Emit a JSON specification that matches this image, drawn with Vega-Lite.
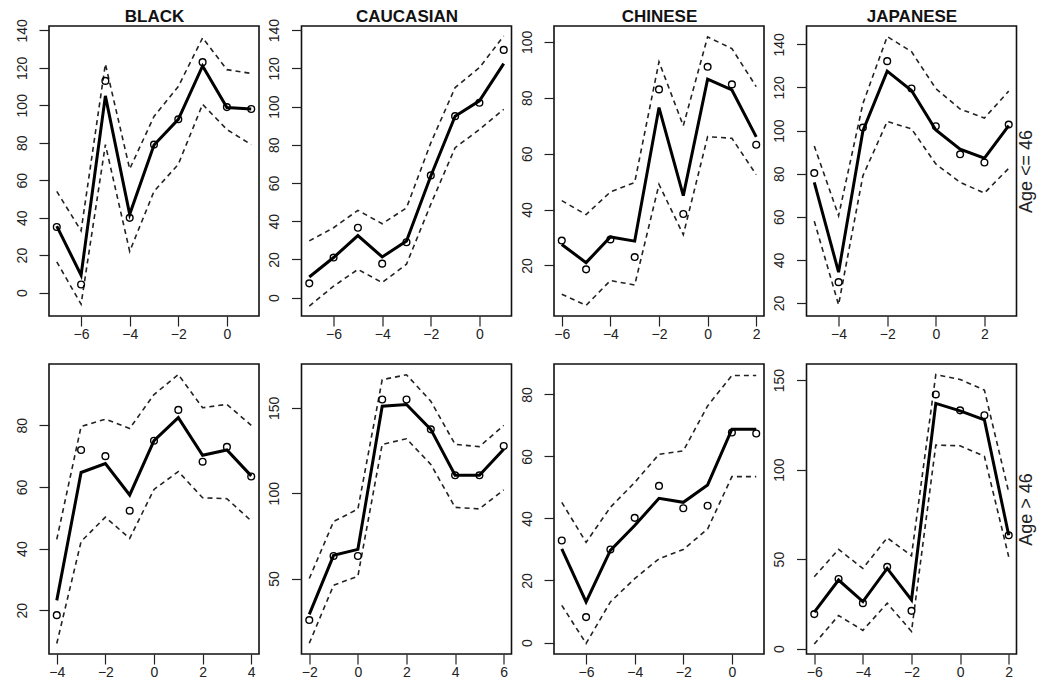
{
"$schema": "https://vega.github.io/schema/vega-lite/v6.json",
"padding": {"left": 14, "top": 6, "right": 5, "bottom": 5},
"background": "white",
"data": {"values": [
{"g":"BLACK","a":"y","x":-7,"fit":35.5,"obs":35,"lo":16.4,"hi":54},
{"g":"BLACK","a":"y","x":-6,"fit":9.3,"obs":4.3,"lo":-6.2,"hi":33},
{"g":"BLACK","a":"y","x":-5,"fit":105,"obs":113,"lo":79,"hi":122},
{"g":"BLACK","a":"y","x":-4,"fit":41.8,"obs":39.9,"lo":22,"hi":66},
{"g":"BLACK","a":"y","x":-3,"fit":78.8,"obs":79,"lo":54,"hi":94},
{"g":"BLACK","a":"y","x":-2,"fit":92.5,"obs":92.5,"lo":68.5,"hi":110},
{"g":"BLACK","a":"y","x":-1,"fit":121,"obs":123,"lo":100.5,"hi":136},
{"g":"BLACK","a":"y","x":0,"fit":98.8,"obs":99,"lo":87,"hi":119},
{"g":"BLACK","a":"y","x":1,"fit":98,"obs":98,"lo":79,"hi":117},
{"g":"CAUCASIAN","a":"y","x":-7,"fit":10.8,"obs":7.5,"lo":-4.4,"hi":29.7},
{"g":"CAUCASIAN","a":"y","x":-6,"fit":21,"obs":21,"lo":6,"hi":36.6},
{"g":"CAUCASIAN","a":"y","x":-5,"fit":32.5,"obs":36.6,"lo":14.8,"hi":45.7},
{"g":"CAUCASIAN","a":"y","x":-4,"fit":21.3,"obs":17.8,"lo":7.9,"hi":38.7},
{"g":"CAUCASIAN","a":"y","x":-3,"fit":29.7,"obs":29,"lo":17.5,"hi":47},
{"g":"CAUCASIAN","a":"y","x":-2,"fit":63.7,"obs":64,"lo":48.9,"hi":81},
{"g":"CAUCASIAN","a":"y","x":-1,"fit":95,"obs":95,"lo":78.5,"hi":110},
{"g":"CAUCASIAN","a":"y","x":0,"fit":103,"obs":102,"lo":88,"hi":120.4},
{"g":"CAUCASIAN","a":"y","x":1,"fit":122.5,"obs":129.7,"lo":98.6,"hi":137},
{"g":"CHINESE","a":"y","x":-6,"fit":27.5,"obs":28.9,"lo":9.7,"hi":43.2},
{"g":"CHINESE","a":"y","x":-5,"fit":21,"obs":18.6,"lo":5.7,"hi":38.2},
{"g":"CHINESE","a":"y","x":-4,"fit":30.2,"obs":29.3,"lo":14.6,"hi":46.3},
{"g":"CHINESE","a":"y","x":-3,"fit":28.7,"obs":23,"lo":13,"hi":49.7},
{"g":"CHINESE","a":"y","x":-2,"fit":76.5,"obs":83,"lo":49,"hi":92.9},
{"g":"CHINESE","a":"y","x":-1,"fit":45,"obs":38.4,"lo":31,"hi":70},
{"g":"CHINESE","a":"y","x":0,"fit":86.7,"obs":91.1,"lo":66.1,"hi":101.8},
{"g":"CHINESE","a":"y","x":1,"fit":82.8,"obs":84.8,"lo":65.5,"hi":97.6},
{"g":"CHINESE","a":"y","x":2,"fit":66,"obs":63.2,"lo":52.5,"hi":84},
{"g":"JAPANESE","a":"y","x":-5,"fit":76,"obs":80.3,"lo":58,"hi":92.8},
{"g":"JAPANESE","a":"y","x":-4,"fit":34.3,"obs":29.7,"lo":19.2,"hi":60.5},
{"g":"JAPANESE","a":"y","x":-3,"fit":99.8,"obs":101.4,"lo":79,"hi":112.5},
{"g":"JAPANESE","a":"y","x":-2,"fit":127.6,"obs":132.2,"lo":104.2,"hi":143.6},
{"g":"JAPANESE","a":"y","x":-1,"fit":118.6,"obs":119.5,"lo":100.8,"hi":136.6},
{"g":"JAPANESE","a":"y","x":0,"fit":100.3,"obs":102,"lo":84.5,"hi":119.5},
{"g":"JAPANESE","a":"y","x":1,"fit":91.4,"obs":89,"lo":76,"hi":110},
{"g":"JAPANESE","a":"y","x":2,"fit":87.2,"obs":85.2,"lo":71,"hi":105.8},
{"g":"JAPANESE","a":"y","x":3,"fit":102.3,"obs":102.8,"lo":82.5,"hi":118.3},
{"g":"BLACK","a":"o","x":-4,"fit":23.2,"obs":18.4,"lo":9.2,"hi":43},
{"g":"BLACK","a":"o","x":-3,"fit":64.7,"obs":72,"lo":42.3,"hi":79.6},
{"g":"BLACK","a":"o","x":-2,"fit":67.6,"obs":70,"lo":50.2,"hi":82},
{"g":"BLACK","a":"o","x":-1,"fit":57.4,"obs":52.3,"lo":43.3,"hi":79},
{"g":"BLACK","a":"o","x":0,"fit":75,"obs":75,"lo":59.2,"hi":90},
{"g":"BLACK","a":"o","x":1,"fit":82.5,"obs":85,"lo":65,"hi":96.5},
{"g":"BLACK","a":"o","x":2,"fit":70.3,"obs":68.2,"lo":56.5,"hi":85.7},
{"g":"BLACK","a":"o","x":3,"fit":72,"obs":73,"lo":56.2,"hi":86.8},
{"g":"BLACK","a":"o","x":4,"fit":63.6,"obs":63.4,"lo":49,"hi":80},
{"g":"CAUCASIAN","a":"o","x":-2,"fit":29,"obs":25.7,"lo":12.1,"hi":50},
{"g":"CAUCASIAN","a":"o","x":-1,"fit":63.6,"obs":63.2,"lo":46.1,"hi":83.4},
{"g":"CAUCASIAN","a":"o","x":0,"fit":67.1,"obs":63.2,"lo":51.4,"hi":90.7},
{"g":"CAUCASIAN","a":"o","x":1,"fit":151,"obs":154.9,"lo":128.6,"hi":166.5},
{"g":"CAUCASIAN","a":"o","x":2,"fit":152,"obs":154.9,"lo":131.9,"hi":169.4},
{"g":"CAUCASIAN","a":"o","x":3,"fit":137.4,"obs":137.4,"lo":116.9,"hi":153.9},
{"g":"CAUCASIAN","a":"o","x":4,"fit":110.5,"obs":110.5,"lo":91.7,"hi":128.6},
{"g":"CAUCASIAN","a":"o","x":5,"fit":110.5,"obs":110.5,"lo":90.8,"hi":127.3},
{"g":"CAUCASIAN","a":"o","x":6,"fit":125.7,"obs":127.7,"lo":102,"hi":139.7},
{"g":"CHINESE","a":"o","x":-7,"fit":30.2,"obs":32.9,"lo":12,"hi":45.2},
{"g":"CHINESE","a":"o","x":-6,"fit":13.1,"obs":8.2,"lo":-0.3,"hi":32.3},
{"g":"CHINESE","a":"o","x":-5,"fit":29.7,"obs":30,"lo":13.1,"hi":43.6},
{"g":"CHINESE","a":"o","x":-4,"fit":37.7,"obs":40.2,"lo":20.6,"hi":51.6},
{"g":"CHINESE","a":"o","x":-3,"fit":46.5,"obs":50.5,"lo":27,"hi":60.7},
{"g":"CHINESE","a":"o","x":-2,"fit":45.2,"obs":43.3,"lo":30,"hi":61.8},
{"g":"CHINESE","a":"o","x":-1,"fit":50.8,"obs":44.1,"lo":36.6,"hi":76.3},
{"g":"CHINESE","a":"o","x":0,"fit":68.8,"obs":67.7,"lo":53.5,"hi":86.1},
{"g":"CHINESE","a":"o","x":1,"fit":68.8,"obs":67.4,"lo":53.5,"hi":86.1},
{"g":"JAPANESE","a":"o","x":-6,"fit":20.4,"obs":19.3,"lo":2.6,"hi":40.2},
{"g":"JAPANESE","a":"o","x":-5,"fit":38.3,"obs":38.9,"lo":18.5,"hi":55.4},
{"g":"JAPANESE","a":"o","x":-4,"fit":26.3,"obs":25.4,"lo":10.2,"hi":44.8},
{"g":"JAPANESE","a":"o","x":-3,"fit":44.8,"obs":45.7,"lo":25.4,"hi":61.9},
{"g":"JAPANESE","a":"o","x":-2,"fit":27.2,"obs":21.1,"lo":9.6,"hi":51.9},
{"g":"JAPANESE","a":"o","x":-1,"fit":137,"obs":142,"lo":113.7,"hi":153.1},
{"g":"JAPANESE","a":"o","x":0,"fit":132.8,"obs":133.1,"lo":113.3,"hi":150.4},
{"g":"JAPANESE","a":"o","x":1,"fit":127.8,"obs":130.4,"lo":107.4,"hi":144.4},
{"g":"JAPANESE","a":"o","x":2,"fit":63.3,"obs":63.3,"lo":51.3,"hi":87.4}
]},
"transform": [{"fold": ["lo", "hi", "fit", "obs"], "as": ["s", "v"]}],
"config": {
  "font": "Liberation Sans",
  "view": {"stroke": "#111", "strokeWidth": 1.6},
  "axis": {"grid": false, "domain": false, "tickColor": "#222", "tickSize": 10, "tickWidth": 1.2, "labelColor": "#222", "labelFontSize": 14, "labelFont": "Liberation Sans", "labelFlush": false, "labelOverlap": false},
  "axisLeft": {"labelAngle": -90, "labelAlign": "center", "labelBaseline": "alphabetic", "labelPadding": 13},
  "axisBottom": {"labelPadding": 1},
  "axisTop": {"labels": false, "ticks": false, "domain": false, "titleFontSize": 17, "titleFontWeight": "bold", "titleColor": "#111", "titlePadding": 5, "titleBaseline": "alphabetic", "titleFont": "Liberation Sans"},
  "axisRight": {"labels": false, "ticks": false, "domain": false, "titleAngle": 270, "titleBaseline": "top", "titleAlign": "center", "titlePadding": 1, "titleFontSize": 18, "titleFontWeight": "normal", "titleColor": "#222", "titleFont": "Liberation Sans"}
},
"spacing": 21,
"vconcat": [
{"spacing": 6.5, "hconcat": [
 {"width": 210, "height": 290,
  "transform": [{"filter": "datum.g == 'BLACK' && datum.a == 'y'"}],
  "resolve": {"axis": {"x": "independent", "y": "independent"}},
  "layer": [
   {"encoding": {
     "x": {"field": "x", "type": "quantitative", "scale": {"domain": [-7.32, 1.32], "nice": false, "zero": false}, "axis": {"title": null, "orient": "bottom", "values": [-6, -4, -2, 0]}},
     "y": {"field": "v", "type": "quantitative", "scale": {"domain": [-12.5, 142.3], "nice": false, "zero": false}, "axis": {"title": null, "orient": "left", "values": [0, 20, 40, 60, 80, 100, 120, 140]}}
    },
    "layer": [
     {"transform": [{"filter": "datum.s == 'lo' || datum.s == 'hi'"}], "mark": {"type": "line", "strokeDash": [5, 4], "strokeWidth": 1.6, "color": "#222"}, "encoding": {"detail": {"field": "s"}}},
     {"transform": [{"filter": "datum.s == 'fit'"}], "mark": {"type": "line", "strokeWidth": 3, "color": "#000"}, "encoding": {}},
     {"transform": [{"filter": "datum.s == 'obs'"}], "mark": {"type": "point", "shape": "circle", "filled": false, "size": 45, "strokeWidth": 1.4, "color": "#000", "opacity": 1}, "encoding": {}}
    ]},
   {"transform": [{"filter": "datum.s == 'obs'"}], "mark": {"type": "point", "opacity": 0},
    "encoding": {"x": {"field": "x", "type": "quantitative", "scale": {"domain": [-7.32, 1.32], "nice": false, "zero": false}, "axis": {"orient": "top", "title": "BLACK"}}}}
  ]},
 {"width": 210, "height": 290,
  "transform": [{"filter": "datum.g == 'CAUCASIAN' && datum.a == 'y'"}],
  "resolve": {"axis": {"x": "independent", "y": "independent"}},
  "layer": [
   {"encoding": {
     "x": {"field": "x", "type": "quantitative", "scale": {"domain": [-7.32, 1.32], "nice": false, "zero": false}, "axis": {"title": null, "orient": "bottom", "values": [-6, -4, -2, 0]}},
     "y": {"field": "v", "type": "quantitative", "scale": {"domain": [-9.6, 142.2], "nice": false, "zero": false}, "axis": {"title": null, "orient": "left", "values": [0, 20, 40, 60, 80, 100, 120, 140]}}
    },
    "layer": [
     {"transform": [{"filter": "datum.s == 'lo' || datum.s == 'hi'"}], "mark": {"type": "line", "strokeDash": [5, 4], "strokeWidth": 1.6, "color": "#222"}, "encoding": {"detail": {"field": "s"}}},
     {"transform": [{"filter": "datum.s == 'fit'"}], "mark": {"type": "line", "strokeWidth": 3, "color": "#000"}, "encoding": {}},
     {"transform": [{"filter": "datum.s == 'obs'"}], "mark": {"type": "point", "shape": "circle", "filled": false, "size": 45, "strokeWidth": 1.4, "color": "#000", "opacity": 1}, "encoding": {}}
    ]},
   {"transform": [{"filter": "datum.s == 'obs'"}], "mark": {"type": "point", "opacity": 0},
    "encoding": {"x": {"field": "x", "type": "quantitative", "scale": {"domain": [-7.32, 1.32], "nice": false, "zero": false}, "axis": {"orient": "top", "title": "CAUCASIAN"}}}}
  ]},
 {"width": 210, "height": 290,
  "transform": [{"filter": "datum.g == 'CHINESE' && datum.a == 'y'"}],
  "resolve": {"axis": {"x": "independent", "y": "independent"}},
  "layer": [
   {"encoding": {
     "x": {"field": "x", "type": "quantitative", "scale": {"domain": [-6.32, 2.32], "nice": false, "zero": false}, "axis": {"title": null, "orient": "bottom", "values": [-6, -4, -2, 0, 2]}},
     "y": {"field": "v", "type": "quantitative", "scale": {"domain": [1.9, 105.7], "nice": false, "zero": false}, "axis": {"title": null, "orient": "left", "values": [20, 40, 60, 80, 100]}}
    },
    "layer": [
     {"transform": [{"filter": "datum.s == 'lo' || datum.s == 'hi'"}], "mark": {"type": "line", "strokeDash": [5, 4], "strokeWidth": 1.6, "color": "#222"}, "encoding": {"detail": {"field": "s"}}},
     {"transform": [{"filter": "datum.s == 'fit'"}], "mark": {"type": "line", "strokeWidth": 3, "color": "#000"}, "encoding": {}},
     {"transform": [{"filter": "datum.s == 'obs'"}], "mark": {"type": "point", "shape": "circle", "filled": false, "size": 45, "strokeWidth": 1.4, "color": "#000", "opacity": 1}, "encoding": {}}
    ]},
   {"transform": [{"filter": "datum.s == 'obs'"}], "mark": {"type": "point", "opacity": 0},
    "encoding": {"x": {"field": "x", "type": "quantitative", "scale": {"domain": [-6.32, 2.32], "nice": false, "zero": false}, "axis": {"orient": "top", "title": "CHINESE"}}}}
  ]},
 {"width": 210, "height": 290,
  "transform": [{"filter": "datum.g == 'JAPANESE' && datum.a == 'y'"}],
  "resolve": {"axis": {"x": "independent", "y": "independent"}},
  "layer": [
   {"encoding": {
     "x": {"field": "x", "type": "quantitative", "scale": {"domain": [-5.32, 3.32], "nice": false, "zero": false}, "axis": {"title": null, "orient": "bottom", "values": [-4, -2, 0, 2]}},
     "y": {"field": "v", "type": "quantitative", "scale": {"domain": [14, 148.5], "nice": false, "zero": false}, "axis": {"title": null, "orient": "left", "values": [20, 40, 60, 80, 100, 120, 140]}}
    },
    "layer": [
     {"transform": [{"filter": "datum.s == 'lo' || datum.s == 'hi'"}], "mark": {"type": "line", "strokeDash": [5, 4], "strokeWidth": 1.6, "color": "#222"}, "encoding": {"detail": {"field": "s"}}},
     {"transform": [{"filter": "datum.s == 'fit'"}], "mark": {"type": "line", "strokeWidth": 3, "color": "#000"}, "encoding": {}},
     {"transform": [{"filter": "datum.s == 'obs'"}], "mark": {"type": "point", "shape": "circle", "filled": false, "size": 45, "strokeWidth": 1.4, "color": "#000", "opacity": 1}, "encoding": {}}
    ]},
   {"transform": [{"filter": "datum.s == 'obs'"}], "mark": {"type": "point", "opacity": 0},
    "encoding": {
     "x": {"field": "x", "type": "quantitative", "scale": {"domain": [-5.32, 3.32], "nice": false, "zero": false}, "axis": {"orient": "top", "title": "JAPANESE"}},
     "y": {"field": "v", "type": "quantitative", "scale": {"domain": [14, 148.5], "nice": false, "zero": false}, "axis": {"orient": "right", "title": "Age <= 46"}}}}
  ]}
]},
{"spacing": 6.5, "hconcat": [
 {"width": 210, "height": 290,
  "transform": [{"filter": "datum.g == 'BLACK' && datum.a == 'o'"}],
  "encoding": {
   "x": {"field": "x", "type": "quantitative", "scale": {"domain": [-4.32, 4.32], "nice": false, "zero": false}, "axis": {"title": null, "orient": "bottom", "values": [-4, -2, 0, 2, 4]}},
   "y": {"field": "v", "type": "quantitative", "scale": {"domain": [5.8, 99.9], "nice": false, "zero": false}, "axis": {"title": null, "orient": "left", "values": [20, 40, 60, 80]}}
  },
  "layer": [
   {"transform": [{"filter": "datum.s == 'lo' || datum.s == 'hi'"}], "mark": {"type": "line", "strokeDash": [5, 4], "strokeWidth": 1.6, "color": "#222"}, "encoding": {"detail": {"field": "s"}}},
   {"transform": [{"filter": "datum.s == 'fit'"}], "mark": {"type": "line", "strokeWidth": 3, "color": "#000"}, "encoding": {}},
   {"transform": [{"filter": "datum.s == 'obs'"}], "mark": {"type": "point", "shape": "circle", "filled": false, "size": 45, "strokeWidth": 1.4, "color": "#000", "opacity": 1}, "encoding": {}}
  ]},
 {"width": 210, "height": 290,
  "transform": [{"filter": "datum.g == 'CAUCASIAN' && datum.a == 'o'"}],
  "encoding": {
   "x": {"field": "x", "type": "quantitative", "scale": {"domain": [-2.32, 6.32], "nice": false, "zero": false}, "axis": {"title": null, "orient": "bottom", "values": [-2, 0, 2, 4, 6]}},
   "y": {"field": "v", "type": "quantitative", "scale": {"domain": [5.8, 175.7], "nice": false, "zero": false}, "axis": {"title": null, "orient": "left", "values": [50, 100, 150]}}
  },
  "layer": [
   {"transform": [{"filter": "datum.s == 'lo' || datum.s == 'hi'"}], "mark": {"type": "line", "strokeDash": [5, 4], "strokeWidth": 1.6, "color": "#222"}, "encoding": {"detail": {"field": "s"}}},
   {"transform": [{"filter": "datum.s == 'fit'"}], "mark": {"type": "line", "strokeWidth": 3, "color": "#000"}, "encoding": {}},
   {"transform": [{"filter": "datum.s == 'obs'"}], "mark": {"type": "point", "shape": "circle", "filled": false, "size": 45, "strokeWidth": 1.4, "color": "#000", "opacity": 1}, "encoding": {}}
  ]},
 {"width": 210, "height": 290,
  "transform": [{"filter": "datum.g == 'CHINESE' && datum.a == 'o'"}],
  "encoding": {
   "x": {"field": "x", "type": "quantitative", "scale": {"domain": [-7.32, 1.32], "nice": false, "zero": false}, "axis": {"title": null, "orient": "bottom", "values": [-6, -4, -2, 0]}},
   "y": {"field": "v", "type": "quantitative", "scale": {"domain": [-3.7, 89.8], "nice": false, "zero": false}, "axis": {"title": null, "orient": "left", "values": [0, 20, 40, 60, 80]}}
  },
  "layer": [
   {"transform": [{"filter": "datum.s == 'lo' || datum.s == 'hi'"}], "mark": {"type": "line", "strokeDash": [5, 4], "strokeWidth": 1.6, "color": "#222"}, "encoding": {"detail": {"field": "s"}}},
   {"transform": [{"filter": "datum.s == 'fit'"}], "mark": {"type": "line", "strokeWidth": 3, "color": "#000"}, "encoding": {}},
   {"transform": [{"filter": "datum.s == 'obs'"}], "mark": {"type": "point", "shape": "circle", "filled": false, "size": 45, "strokeWidth": 1.4, "color": "#000", "opacity": 1}, "encoding": {}}
  ]},
 {"width": 210, "height": 290,
  "transform": [{"filter": "datum.g == 'JAPANESE' && datum.a == 'o'"}],
  "resolve": {"axis": {"y": "independent"}},
  "layer": [
   {"encoding": {
     "x": {"field": "x", "type": "quantitative", "scale": {"domain": [-6.32, 2.32], "nice": false, "zero": false}, "axis": {"title": null, "orient": "bottom", "values": [-6, -4, -2, 0, 2]}},
     "y": {"field": "v", "type": "quantitative", "scale": {"domain": [-3, 159], "nice": false, "zero": false}, "axis": {"title": null, "orient": "left", "values": [0, 50, 100, 150]}}
    },
    "layer": [
     {"transform": [{"filter": "datum.s == 'lo' || datum.s == 'hi'"}], "mark": {"type": "line", "strokeDash": [5, 4], "strokeWidth": 1.6, "color": "#222"}, "encoding": {"detail": {"field": "s"}}},
     {"transform": [{"filter": "datum.s == 'fit'"}], "mark": {"type": "line", "strokeWidth": 3, "color": "#000"}, "encoding": {}},
     {"transform": [{"filter": "datum.s == 'obs'"}], "mark": {"type": "point", "shape": "circle", "filled": false, "size": 45, "strokeWidth": 1.4, "color": "#000", "opacity": 1}, "encoding": {}}
    ]},
   {"transform": [{"filter": "datum.s == 'obs'"}], "mark": {"type": "point", "opacity": 0},
    "encoding": {"y": {"field": "v", "type": "quantitative", "scale": {"domain": [-3, 159], "nice": false, "zero": false}, "axis": {"orient": "right", "title": "Age > 46"}}}}
  ]}
]}
]
}
